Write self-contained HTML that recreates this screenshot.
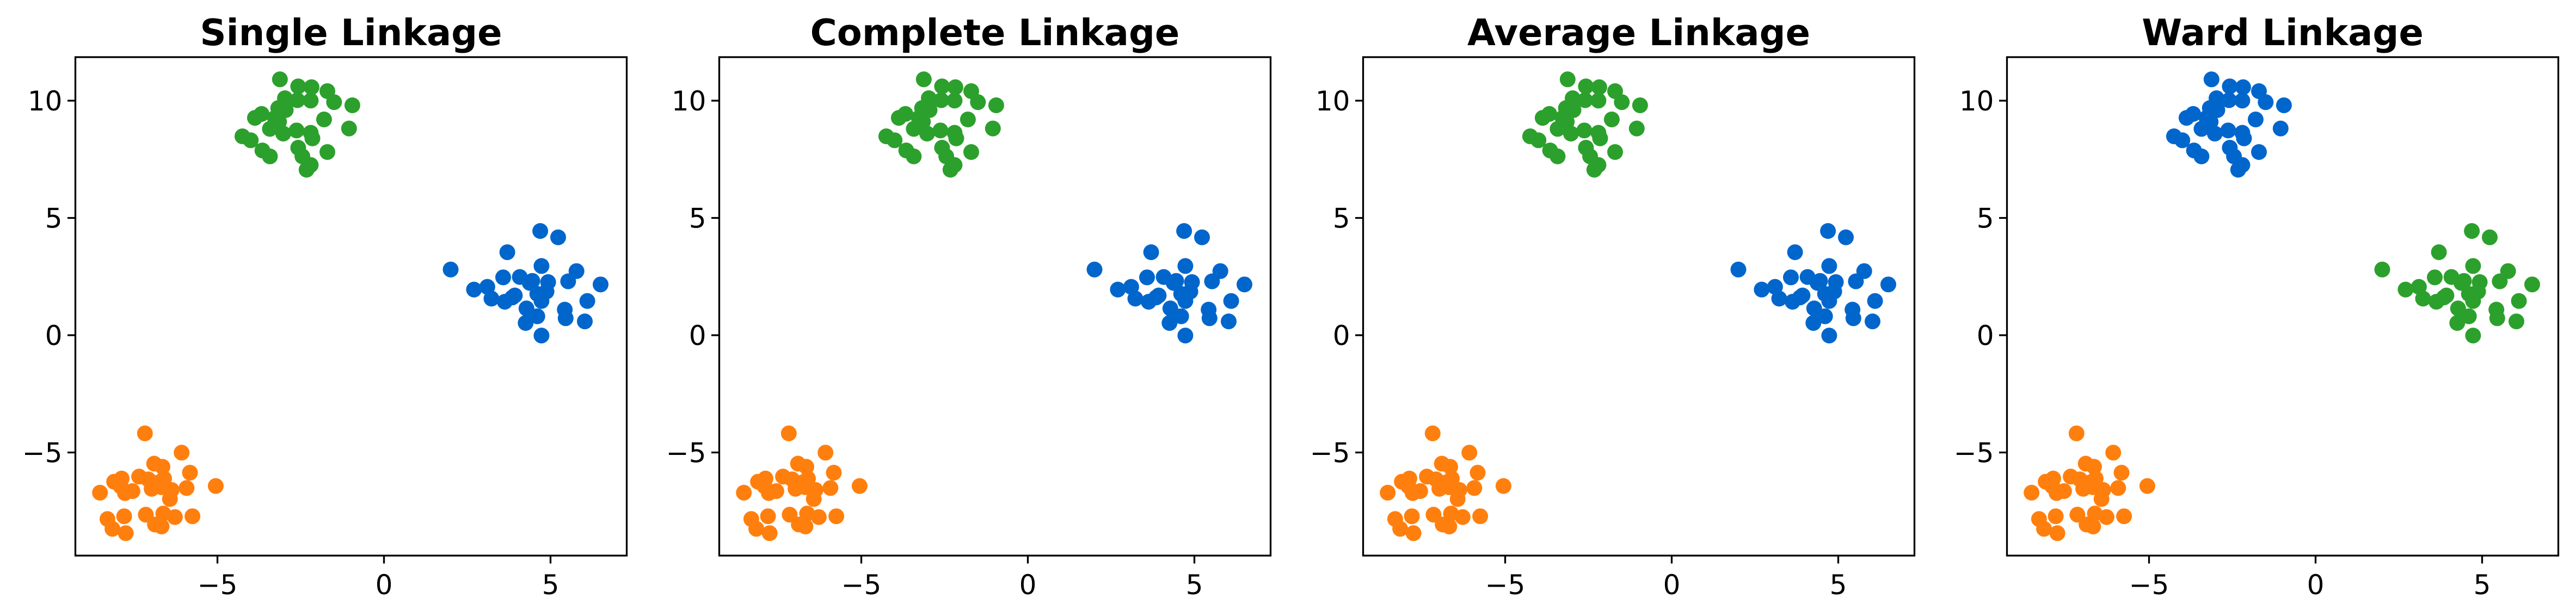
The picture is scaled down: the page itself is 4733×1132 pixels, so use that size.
<!DOCTYPE html>
<html><head><meta charset="utf-8"><style>
html,body{margin:0;padding:0;background:#fff;}
svg{display:block;}
text{font-family:"DejaVu Sans","Liberation Sans",sans-serif;fill:#000;}
</style></head><body>
<svg id="s" width="4733" height="1132" xmlns="http://www.w3.org/2000/svg"></svg>
<script>
var G=[[672,202],[716,220],[748,222],[786,232],[684,250],[714,255],[746,256],[802,260],[846,268],[668,275],[686,280],[628,290],[612,300],[778,304],[648,328],[680,340],[712,332],[746,338],[750,352],[838,327],[582,347],[602,357],[670,310],[630,383],[648,398],[716,376],[726,398],[786,387],[736,432],[746,420],[660,300]];
var O=[[348,1103],[436,1152],[370,1180],[390,1188],[456,1203],[334,1213],[356,1220],[394,1218],[292,1218],[274,1226],[290,1238],[318,1250],[300,1255],[240,1254],[364,1244],[388,1240],[412,1247],[448,1242],[518,1237],[408,1270],[380,1228],[350,1310],[392,1307],[420,1316],[462,1314],[298,1314],[258,1321],[270,1346],[302,1357],[372,1335],[388,1340]];
var B=[[1297,588],[1340,604],[1218,642],[1300,677],[1082,686],[1384,690],[1208,706],[1248,705],[1278,715],[1316,718],[1364,716],[1442,724],[1138,737],[1170,730],[1180,760],[1212,768],[1230,757],[1236,752],[1290,748],[1312,742],[1300,766],[1410,766],[1264,785],[1356,788],[1290,805],[1358,810],[1262,822],[1404,818],[1300,854],[1272,720]];
var titles=["Single Linkage","Complete Linkage","Average Linkage","Ward Linkage"];
var blue="#0066cc",green="#2ca02c",orange="#ff7f0e";
var h="";
var sx=1.3067,sy=1.385;
for(var i=0;i<4;i++){
 var off=1183*i;
 var L=138.5+off,R=1151.5+off,T=105,Bt=1021;
 var cg=i==3?blue:green, cb=i==3?green:blue;
 function X(v){return 705.5+off+v*61.2;}
 function Y(v){return 616-v*43.1;}
 [[G,cg],[O,orange],[B,cb]].forEach(function(p){
  p[0].forEach(function(q){h+='<circle cx="'+(q[0]/sx+off).toFixed(1)+'" cy="'+(q[1]/sy).toFixed(1)+'" r="14.5" fill="'+p[1]+'"/>';});
 });
 h+='<rect x="'+L+'" y="'+T+'" width="'+(R-L)+'" height="'+(Bt-T)+'" fill="none" stroke="#000" stroke-width="3.3"/>';
 [-5,0,5].forEach(function(v){var x=X(v);
  h+='<line x1="'+x+'" y1="'+Bt+'" x2="'+x+'" y2="'+(Bt+14.5)+'" stroke="#000" stroke-width="3.3"/>';
  h+='<text x="'+x+'" y="'+1092+'" font-size="50" text-anchor="middle">'+(v<0?'\u2212'+(-v):v)+'</text>';});
 [-5,0,5,10].forEach(function(v){var y=Y(v);
  h+='<line x1="'+L+'" y1="'+y+'" x2="'+(L-14.5)+'" y2="'+y+'" stroke="#000" stroke-width="3.3"/>';
  h+='<text x="'+(L-24)+'" y="'+(y+18)+'" font-size="50" text-anchor="end">'+(v<0?'\u2212'+(-v):v)+'</text>';});
 h+='<text x="'+((L+R)/2)+'" y="83" font-size="67" font-weight="bold" text-anchor="middle">'+titles[i]+'</text>';
}
document.getElementById("s").innerHTML=h;
</script>
</body></html>
